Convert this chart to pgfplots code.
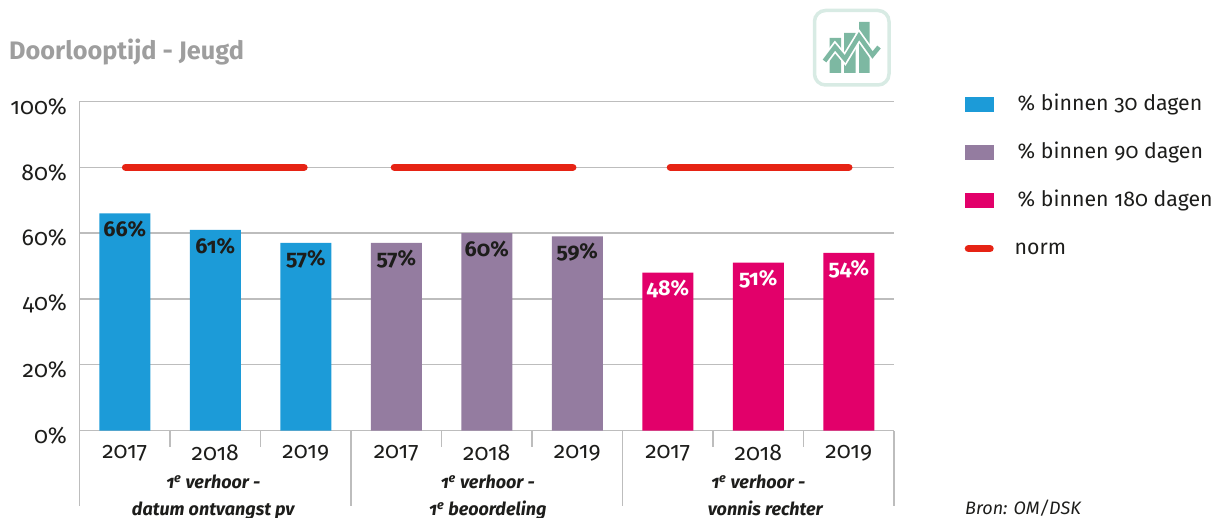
\documentclass[border=0pt]{standalone}
\usepackage{fontspec}
\setmainfont[Numbers=OldStyle]{Fira Sans}
\usepackage{pgfplots}
\pgfplotsset{compat=1.18}
\definecolor{cblue}{HTML}{1C9BD8}
\definecolor{cpurple}{HTML}{947CA0}
\definecolor{cmag}{HTML}{E2006A}
\definecolor{cred}{HTML}{E62314}
\definecolor{cgrid}{HTML}{BDBDBD}
\definecolor{cdark}{HTML}{1D1D1B}
\definecolor{cicon}{HTML}{7DB8A2}
\definecolor{ciconb}{HTML}{D8EBE4}
\begin{document}
\begin{tikzpicture}[x=1pt,y=1pt]
\useasboundingbox (0,0) rectangle (1212,517);
\clip (0,0) rectangle (1212,517);
\node[anchor=west,font=\fontsize{25.3}{28}\selectfont\bfseries,text=black!38,inner sep=0pt] at (9,465) {Doorlooptijd - Jeugd};
% icon
\draw[ciconb,line width=3.5pt,rounded corners=11pt] (814.5,432) rectangle (889,506.5);
\fill[cicon] (829.5,444) rectangle (841,479) (844,444) rectangle (855.5,484) (859,444) rectangle (869.5,495);
\draw[white,line width=8pt,line join=miter] (824.5,456) -- (835,470) -- (845,458) -- (859,481) -- (872.5,462) -- (879,470);
\draw[cicon,line width=4.5pt,line join=miter] (824.5,456) -- (835,470) -- (845,458) -- (859,481) -- (872.5,462) -- (879,470);
\begin{axis}[
  at={(79.5pt,86.5pt)}, anchor=south west, scale only axis,
  width=814.5pt, height=329pt,
  xmin=-0.5, xmax=8.5, ymin=0, ymax=100,
  clip=false,
  axis y line*=left, axis x line*=bottom,
  axis line style={cgrid,line width=1.3pt,-},
  ytick={0,20,40,60,80,100},
  yticklabel={\pgfmathprintnumber{\tick}\%},
  /pgf/number format/assume math mode=true,
  yticklabel style={font=\fontsize{23}{28}\selectfont,text=cdark,yshift=-5pt,xshift=-9pt},
  ymajorgrids, grid style={cgrid,line width=1.3pt},
  extra y ticks={100},
  extra y tick labels={},
  major tick length=0pt,
  xtick={0,...,8},
  xticklabels={2017,2018,2019,2017,2018,2019,2017,2018,2019},
  xticklabel style={font=\fontsize{23}{27}\selectfont,text=cdark,yshift=-11pt},
  minor xtick={0.5,1.5,3.5,4.5,6.5,7.5},
  minor tick length=16pt,
  xminorgrids=false,
  tick style={cgrid,line width=1.3pt},
  extra x ticks={-0.5,2.5,5.5,8.5},
  extra x tick labels={},
  extra x tick style={major tick length=75pt,tick style={cgrid,line width=1.3pt},grid=none},
  tickpos=left,
  ybar, bar width=51pt, bar shift=0pt,
  nodes near coords={\pgfmathprintnumber{\pgfplotspointmeta}\%},
  point meta=y,
  every node near coord/.append style={anchor=center,yshift=-16pt,inner sep=0pt,font=\fontsize{21.5}{24}\selectfont\bfseries,/pgf/number format/assume math mode=true},
  legend style={at={(1.0866,1.026)},anchor=north west,draw=none,fill=none,inner sep=0pt,
    font=\fontsize{21.3}{26}\selectfont,text=cdark,
    row sep=25pt,
    /tikz/every odd column/.append style={column sep=24pt},
    nodes={inner sep=0pt,anchor=west,text height=17pt,text depth=6pt}},
  legend cell align=left,
]
\addplot[fill=cblue,draw=none,every node near coord/.append style={text=cdark},
  legend image code/.code={\fill[cblue] (0pt,-7.5pt) rectangle (29pt,7.5pt);}] table[row sep=\\] {x y\\0 66\\1 61\\2 57\\};
\addlegendentry{\% binnen 30 dagen}
\addplot[fill=cpurple,draw=none,every node near coord/.append style={text=cdark},
  legend image code/.code={\fill[cpurple] (0pt,-7.5pt) rectangle (29pt,7.5pt);}] table[row sep=\\] {x y\\3 57\\4 60\\5 59\\};
\addlegendentry{\% binnen 90 dagen}
\addplot[fill=cmag,draw=none,every node near coord/.append style={text=white},
  legend image code/.code={\fill[cmag] (0pt,-7.5pt) rectangle (29pt,7.5pt);}] table[row sep=\\] {x y\\6 48\\7 51\\8 54\\};
\addlegendentry{\% binnen 180 dagen}
\addplot[sharp plot,nodes near coords={},no markers,cred,line width=7.5pt,line cap=round,
  legend image code/.code={\draw[cred,line width=7.5pt,line cap=round] (3.75pt,0pt) -- (25.25pt,0pt); \path[draw=none,fill=none] (0pt,0pt) -- (29pt,0pt);}] table[row sep=\\] {x y\\0.01 80\\1.98 80\\};
\addlegendentry{\hspace{-3pt}norm}
\addplot[sharp plot,nodes near coords={},no markers,cred,line width=7.5pt,line cap=round,forget plot] table[row sep=\\] {x y\\2.98 80\\4.95 80\\};
\addplot[sharp plot,nodes near coords={},no markers,cred,line width=7.5pt,line cap=round,forget plot] table[row sep=\\] {x y\\6.03 80\\8 80\\};
\node[font=\fontsize{18}{27}\selectfont\bfseries\itshape,text=cdark,align=center,anchor=north,inner sep=0pt] at (axis cs:1,0) [yshift=-44pt,xshift=-2pt] {1\textsuperscript{e} verhoor -\\datum ontvangst pv};
\node[font=\fontsize{18}{27}\selectfont\bfseries\itshape,text=cdark,align=center,anchor=north,inner sep=0pt] at (axis cs:4,0) [yshift=-44pt,xshift=1pt] {1\textsuperscript{e} verhoor -\\1\textsuperscript{e} beoordeling};
\node[font=\fontsize{18}{27}\selectfont\bfseries\itshape,text=cdark,align=center,anchor=north,inner sep=0pt] at (axis cs:7,0) [yshift=-44pt] {1\textsuperscript{e} verhoor -\\\hspace*{14pt}vonnis rechter};
\end{axis}
\node[anchor=west,font=\fontsize{18}{22}\selectfont\itshape,text=cdark,inner sep=0pt] at (965,9) {Bron: OM/DSK};
\end{tikzpicture}
\end{document}
